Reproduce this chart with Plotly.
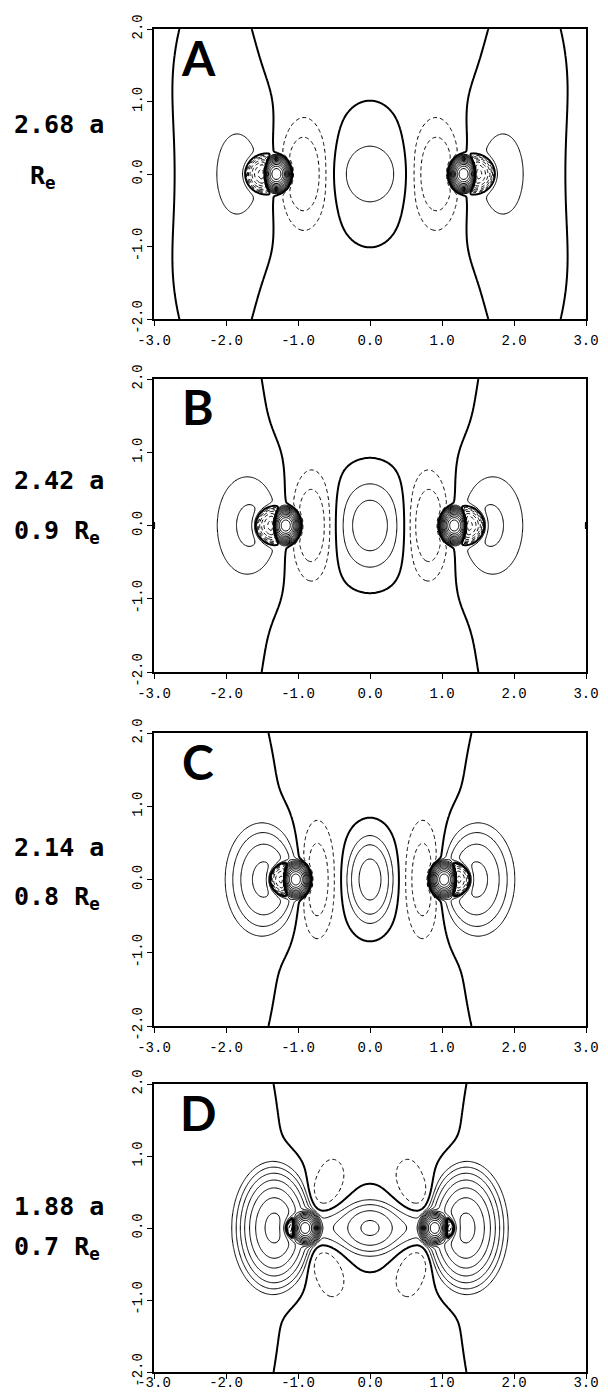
import numpy as np
import plotly.graph_objects as go

W, H = 608, 1398

# ---- panel labels ----
panel_letters = ["A", "B", "C", "D"]
sep_labels = ["2.68 a", "2.42 a", "2.14 a", "1.88 a"]
re_labels = ["R<sub>e</sub>", "0.9 R<sub>e</sub>", "0.8 R<sub>e</sub>", "0.7 R<sub>e</sub>"]

# ---- axis ticks ----
x_tickvals = [-3, -2, -1, 0, 1, 2, 3]
x_ticktext = ["-3.0", "-2.0", "-1.0", "0.0", "1.0", "2.0", "3.0"]
y_tickvals = [-2, -1, 0, 1, 2]
y_ticktext = ["-2.0", "-1.0", "0.0", "1.0", "2.0"]

# ---- density-difference features read from the maps (right half, mirrored) ----
# columns: centre x, centre y, amplitude (in units of first contour), width x, width y
A_cx  = [0.0,  0.0,  0.93, 1.74, 2.15, 1.30,  1.47, 1.36, 3.40]
A_cy  = [0.0,  0.40, 0.0,  0.0,  0.0,  0.0,   0.0,  0.0,  0.0]
A_amp = [1.2,  0.6,  -3.4, 1.1,  0.8,  8000, -100,  1.2, -0.6]
A_sx  = [0.36, 0.38, 0.22, 0.33, 0.55, 0.055, 0.09, 0.14, 0.40]
A_sy  = [0.30, 0.55, 0.45, 0.60, 2.2,  0.065, 0.09, 0.15, 0.70]
A_off = -0.35

B_cx  = [0.0,  0.82, 1.65, 2.40, 1.17,  1.34, 1.22, 3.40]
B_cy  = [0.0,  0.0,  0.0,  0.0,  0.0,   0.0,  0.0,  0.0]
B_amp = [3.2,  -3.4, 2.2,  0.7,  8000, -100,  1.2, -0.38]
B_sx  = [0.30, 0.19, 0.30, 0.80, 0.055, 0.09, 0.14, 0.40]
B_sy  = [0.42, 0.45, 0.48, 3.0,  0.065, 0.09, 0.15, 0.35]
B_off = -0.3

C_cx  = [0.0,  0.74, 1.47, 2.25, 1.03,  1.19, 1.08]
C_cy  = [0.0,  0.0,  0.0,  0.0,  0.0,   0.0,  0.0]
C_amp = [6.0,  -3.0, 10.0, 0.7,  8000, -100,  1.2]
C_sx  = [0.185, 0.16, 0.23, 0.80, 0.055, 0.09, 0.14]
C_sy  = [0.34, 0.50, 0.35, 2.6,  0.065, 0.09, 0.15]
C_off = -0.3

D_cx  = [0.0,  0.0,  0.55, 0.52, 0.66, 1.33, 2.40, 0.90,  1.06, 0.94]
D_cy  = [0.0,  0.0,  0.0,  0.74, 0.46, 0.0,  0.0,  0.0,   0.0,  0.0]
D_amp = [9.0,  0.6,  1.5,  -1.4, -1.4, 80.0, 0.75, 8000, -100,  1.2]
D_sx  = [0.21, 0.45, 0.20, 0.15, 0.15, 0.19, 0.90, 0.055, 0.09, 0.14]
D_sy  = [0.18, 0.45, 0.18, 0.20, 0.18, 0.31, 3.0,  0.065, 0.09, 0.15]
D_off = -0.3

panels = [
    (A_cx, A_cy, A_amp, A_sx, A_sy, A_off),
    (B_cx, B_cy, B_amp, B_sx, B_sy, B_off),
    (C_cx, C_cy, C_amp, C_sx, C_sy, C_off),
    (D_cx, D_cy, D_amp, D_sx, D_sy, D_off),
]

# panel frames in pixels (left, right, top, bottom)
frames_px = [(154, 586, 29, 319), (154, 586, 379, 672), (154, 586, 733, 1026), (154, 586, 1084, 1372)]

gx = np.linspace(-3, 3, 401)
gy = np.linspace(-2, 2, 267)
X, Y = np.meshgrid(gx, gy)


def build_field(cx, cy, amp, sx, sy, off):
    z = np.full_like(X, off)
    for x0, y0, a, wx, wy in zip(cx, cy, amp, sx, sy):
        xs = [x0] if x0 == 0 else [x0, -x0]
        ys = [y0] if y0 == 0 else [y0, -y0]
        for xx in xs:
            for yy in ys:
                z += a * np.exp(-0.5 * ((X - xx) / wx) ** 2 - 0.5 * ((Y - yy) / wy) ** 2)
    # geometric contour levels (x2 per step) mapped onto integer steps
    az = np.abs(z)
    L = np.where(az < 1, z, np.sign(z) * (np.log2(np.maximum(az, 1e-12)) + 1))
    return L.astype(np.float32)


fig = go.Figure()
black = [[0, "black"], [1, "black"]]
annotations = []
tick_font = dict(family="Liberation Mono", size=14, color="black")

for i, (par, fr) in enumerate(zip(panels, frames_px)):
    L = build_field(*par)
    xa = "x" if i == 0 else f"x{i+1}"
    ya = "y" if i == 0 else f"y{i+1}"
    common = dict(x=gx, y=gy, z=L, yaxis=ya, showscale=False,
                  colorscale=black, autocontour=False, hoverinfo="skip")
    fig.add_trace(go.Contour(**common, xaxis=xa, contours=dict(start=1, end=14, size=1, coloring="lines"),
                             line=dict(width=1, smoothing=1)))
    fig.add_trace(go.Contour(**common, xaxis=xa, contours=dict(start=-14, end=-1, size=1, coloring="lines"),
                             line=dict(width=1, dash="4px,3px", smoothing=1)))
    zero_xa = "x5" if i == 3 else xa
    fig.add_trace(go.Contour(**common, xaxis=zero_xa, contours=dict(start=0, end=0.5, size=1, coloring="lines"),
                             line=dict(width=2, smoothing=1)))

    l, r, t, b = fr
    xd = [l / W, r / W]
    yd = [1 - b / H, 1 - t / H]
    axis_common = dict(showline=True, linecolor="black", linewidth=1.5, mirror=True,
                       ticks="outside", ticklen=5, tickwidth=1, tickcolor="black",
                       showgrid=False, zeroline=False, automargin=False, tickfont=tick_font)
    fig.layout[("xaxis" if i == 0 else f"xaxis{i+1}")] = dict(
        domain=xd, range=[-3, 3], anchor=ya, tickvals=x_tickvals, ticktext=x_ticktext,
        ticklabelstandoff=2, showticklabels=(i != 3), **axis_common)
    fig.layout[("yaxis" if i == 0 else f"yaxis{i+1}")] = dict(
        domain=yd, range=[-2, 2], anchor=xa, tickvals=y_tickvals, ticktext=y_ticktext,
        tickangle=-90, **axis_common)

    annotations.append(dict(text=panel_letters[i], xref="paper", yref="paper",
                            x=198 / W, y=1 - (t + 28) / H, xanchor="center", yanchor="middle",
                            showarrow=False,
                            font=dict(family="Lato", size=48, color="black", weight=700)))

# bottom panel: tick labels sit closer to the axis
fig.layout["xaxis5"] = dict(domain=[154 / W, 586 / W], range=[-3, 3], anchor="y4", overlaying="x4",
                            side="bottom", showline=False, ticks="", showgrid=False, zeroline=False,
                            automargin=False, tickvals=x_tickvals, ticktext=x_ticktext, tickfont=tick_font)

label_a_y = [125, 480, 847, 1206]
label_r_y = [177, 532, 898, 1248]
label_r_x = [28, 12, 12, 12]
for i in range(4):
    annotations.append(dict(text=sep_labels[i], xref="paper", yref="paper",
                            x=12 / W, y=1 - label_a_y[i] / H, xanchor="left", yanchor="middle",
                            showarrow=False,
                            font=dict(family="DejaVu Sans Mono", size=25, color="black", weight=700)))
    annotations.append(dict(text=re_labels[i], xref="paper", yref="paper",
                            x=label_r_x[i] / W, y=1 - label_r_y[i] / H, xanchor="left", yanchor="middle",
                            showarrow=False,
                            font=dict(family="DejaVu Sans Mono", size=25, color="black", weight=700)))

fig.update_layout(width=W, height=H, margin=dict(l=0, r=0, t=0, b=0, autoexpand=False),
                  paper_bgcolor="white", plot_bgcolor="white", showlegend=False,
                  annotations=annotations)

fig.write_html("out.html", config={"displayModeBar": False},
               post_script="document.body.style.margin='0px';")
